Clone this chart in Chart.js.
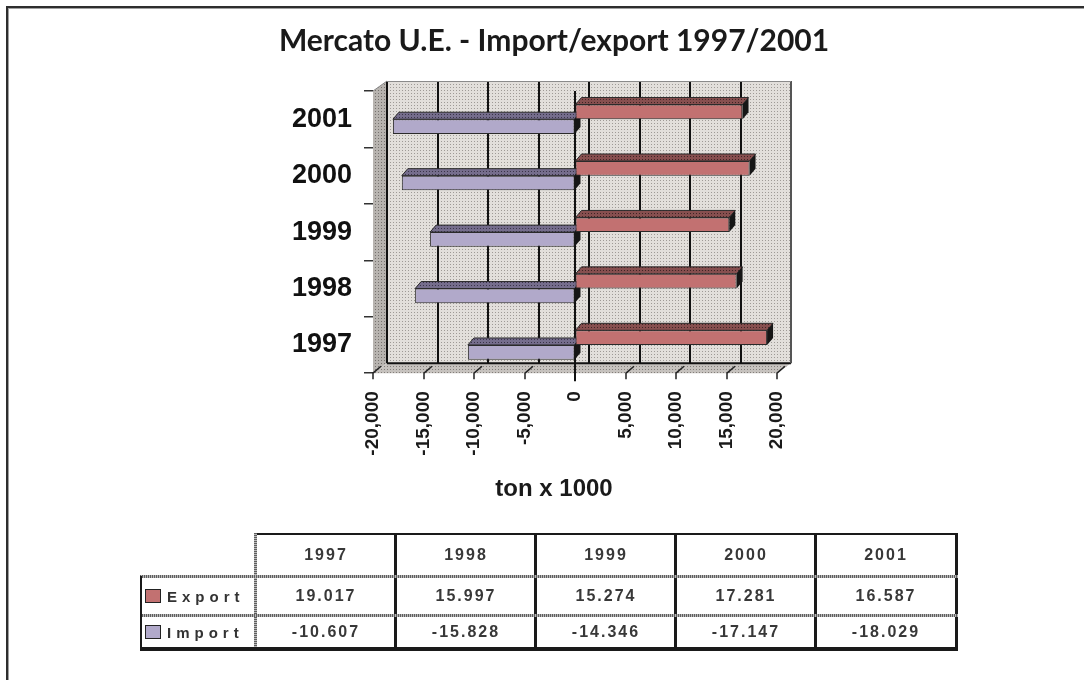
<!DOCTYPE html>
<html>
<head>
<meta charset="utf-8">
<title>Mercato U.E. - Import/export 1997/2001</title>
<script src="https://cdn.jsdelivr.net/npm/chart.js@4.4.1/dist/chart.umd.min.js"></script>
<style>
  html, body { margin: 0; padding: 0; background: #fff; width: 1084px; height: 680px; overflow: hidden; }
  #frame { position: absolute; left: 6px; top: 6px; right: 0; bottom: 0;
           border-top: 2px solid #2e2e2e; border-left: 2px solid #2e2e2e;
           box-shadow: inset 1px 1px 0 #a0a0a0; }
  #chart { position: absolute; left: 0; top: 0; }
  #table { position: absolute; left: 0; top: 0; width: 1084px; height: 680px;
           font-family: "Liberation Sans", Arial, sans-serif; }
  #table div { position: absolute; box-sizing: border-box; }
  .cell { display: flex; align-items: center; justify-content: center;
          font-weight: bold; font-size: 16px; letter-spacing: 2px; padding-left: 2px; color: #383838; }
  .name { display: flex; align-items: center; font-weight: bold; font-size: 15px;
          letter-spacing: 5px; color: #333; }
  .black { background: #1a1a1a; }
  .dots { background: repeating-linear-gradient(90deg, #5e5e5e 0 1px, #b8b8b8 1px 2px); }
  .vdots { background: repeating-linear-gradient(180deg, #5e5e5e 0 1px, #b8b8b8 1px 2px); }
</style>
</head>
<body>
<div id="frame"></div>
<canvas id="chart" width="1084" height="520"></canvas>
<div id="table"></div>
<script>
// ---- data ----
const categories   = ['1997', '1998', '1999', '2000', '2001'];
const seriesNames  = ['Export', 'Import'];
const exportValues = [19017, 15997, 15274, 17281, 16587];
const importValues = [-10607, -15828, -14346, -17147, -18029];
const axisTicks    = [-20000, -15000, -10000, -5000, 0, 5000, 10000, 15000, 20000];
const chartTitle   = 'Mercato U.E. - Import/export 1997/2001';
const axisTitle    = 'ton x 1000';

// ---- styling ----
const exportColor = '#c27171';
const importColor = '#b1a9ca';
const DX = 14, DY = 10;     // depth of the room (back wall offset)
const BDX = 6, BDY = 7;     // depth of each bar

function tile(base, dot, n) {
  const c = document.createElement('canvas');
  c.width = n; c.height = n;
  const g = c.getContext('2d');
  g.fillStyle = base; g.fillRect(0, 0, n, n);
  g.fillStyle = dot; g.fillRect(0, 0, 1, 1);
  return c;
}
function poly(ctx, pts) {
  ctx.beginPath();
  ctx.moveTo(pts[0][0], pts[0][1]);
  for (let i = 1; i < pts.length; i++) ctx.lineTo(pts[i][0], pts[i][1]);
  ctx.closePath();
}
function seg(ctx, x1, y1, x2, y2) {
  ctx.beginPath(); ctx.moveTo(x1, y1); ctx.lineTo(x2, y2); ctx.stroke();
}

// Walls, floor, back grid and the 3D sides of the bars
const room3d = {
  id: 'room3d',
  beforeDatasetsDraw(chart) {
    const { ctx, chartArea: a, scales } = chart;
    const xs = scales.x;
    const L = a.left, R = a.right, T = a.top, B = a.bottom;
    ctx.save();

    // back wall
    ctx.fillStyle = ctx.createPattern(tile('#e2dfdb', '#9e9a96', 3), 'repeat');
    ctx.fillRect(L + DX, T - DY, R - L, B - T);
    // left wall
    ctx.fillStyle = ctx.createPattern(tile('#b8b4b0', '#76726e', 3), 'repeat');
    poly(ctx, [[L, T], [L + DX, T - DY], [L + DX, B - DY], [L, B]]); ctx.fill();
    // floor
    ctx.fillStyle = ctx.createPattern(tile('#c6c2be', '#827e7a', 3), 'repeat');
    poly(ctx, [[L, B], [L + DX, B - DY], [R + DX, B - DY], [R, B]]); ctx.fill();

    // grid lines on the back wall
    ctx.strokeStyle = '#111'; ctx.lineWidth = 2;
    xs.ticks.forEach(t => {
      if (t.value === xs.min || t.value === xs.max) return;
      const px = Math.round(xs.getPixelForValue(t.value)) + DX;
      seg(ctx, px, T - DY, px, B - DY);
    });
    // back wall edges
    seg(ctx, L + DX, T - DY, L + DX, B - DY);
    seg(ctx, L + DX, B - DY, R + DX, B - DY);
    ctx.strokeStyle = '#555';
    seg(ctx, R + DX, T - DY, R + DX, B - DY);
    ctx.strokeStyle = '#8a8a8a'; ctx.lineWidth = 1;
    seg(ctx, L + DX, T - DY + 0.5, R + DX, T - DY + 0.5);
    seg(ctx, L, T, L + DX, T - DY);

    // tick marks across the floor
    ctx.strokeStyle = '#222'; ctx.lineWidth = 1.5;
    xs.ticks.forEach(t => {
      if (t.value === 0) return;
      const f = Math.round(xs.getPixelForValue(t.value));
      ctx.beginPath();
      ctx.moveTo(f + 8, B - DY + 3); ctx.lineTo(f, B); ctx.lineTo(f, B + 6);
      ctx.stroke();
    });

    // zero line
    const z = Math.round(xs.getPixelForValue(0));
    ctx.strokeStyle = '#111'; ctx.lineWidth = 2;
    seg(ctx, z, T, z, B + 8);

    // top and end faces of the bars
    const tops = [
      ctx.createPattern(tile('#874f4f', '#3e2424', 3), 'repeat'),
      ctx.createPattern(tile('#756d8c', '#3a3448', 3), 'repeat')
    ];
    chart.data.datasets.forEach((ds, i) => {
      chart.getDatasetMeta(i).data.forEach(el => {
        const p = el.getProps(['x', 'y', 'base', 'height'], true);
        const left = Math.min(p.x, p.base), right = Math.max(p.x, p.base);
        const top = p.y - p.height / 2, bottom = p.y + p.height / 2;
        ctx.fillStyle = tops[i];
        poly(ctx, [[left, top], [left + BDX, top - BDY], [right + BDX, top - BDY], [right, top]]);
        ctx.fill();
        ctx.strokeStyle = '#2a2a2a'; ctx.lineWidth = 1; ctx.stroke();
        ctx.fillStyle = '#161616';
        poly(ctx, [[right, top], [right + BDX, top - BDY], [right + BDX, bottom - BDY], [right, bottom]]);
        ctx.fill();
      });
    });
    ctx.restore();
  }
};

new Chart(document.getElementById('chart'), {
  type: 'bar',
  data: {
    labels: categories,
    datasets: [
      { label: seriesNames[0], data: exportValues, backgroundColor: exportColor,
        borderColor: '#2a2a2a', borderWidth: 1, borderSkipped: false },
      { label: seriesNames[1], data: importValues, backgroundColor: importColor,
        borderColor: '#2a2a2a', borderWidth: 1, borderSkipped: false }
    ]
  },
  options: {
    indexAxis: 'y',
    responsive: false,
    animation: false,
    events: [],
    categoryPercentage: 0.52,
    barPercentage: 1.0,
    layout: { padding: { left: 24, right: 0, top: 0, bottom: 12 } },
    plugins: {
      legend: { display: false },
      tooltip: { enabled: false },
      title: {
        display: true,
        text: chartTitle,
        color: '#1a1a1a',
        font: { family: 'Lato', size: 30, weight: 'bold' },
        padding: { top: 23, bottom: 32 }
      },
      subtitle: {
        display: true,
        position: 'bottom',
        text: axisTitle,
        color: '#1a1a1a',
        font: { family: 'Liberation Sans', size: 24, weight: 'bold' },
        padding: { top: 2, bottom: 4 }
      }
    },
    scales: {
      x: {
        type: 'linear',
        min: -20000, max: 20000,
        afterBuildTicks: s => { s.ticks = axisTicks.map(v => ({ value: v })); },
        afterFit: s => { s.height = 100; },
        border: { display: false },
        grid: { display: true, drawOnChartArea: false, drawTicks: true, tickLength: 8, color: 'rgba(0,0,0,0)' },
        ticks: {
          minRotation: 90, maxRotation: 90, padding: 10,
          color: '#1a1a1a',
          font: { family: 'Liberation Sans', size: 19, weight: 'bold' },
          callback: v => v.toLocaleString('en-US')
        }
      },
      y: {
        type: 'category',
        reverse: true,
        offset: true,
        afterFit: s => { s.width = 349; },
        border: { display: false },
        grid: { display: true, offset: true, drawOnChartArea: false, drawTicks: true,
                tickLength: 9, color: '#333', lineWidth: 1.5 },
        ticks: { color: '#111', font: { family: 'Liberation Sans', size: 27, weight: 'bold' }, padding: 12 }
      },
      spacer: {
        type: 'linear', position: 'right', display: true,
        afterFit: s => { s.width = 307; },
        border: { display: false },
        grid: { display: false, drawTicks: false },
        ticks: { display: false }
      }
    }
  },
  plugins: [room3d]
});

// ---- data table below the chart ----
function itNumber(v) {
  const s = Math.abs(v).toString().replace(/\B(?=(\d{3})+(?!\d))/g, '.');
  return (v < 0 ? '-' : '') + s;
}
const T = document.getElementById('table');
function box(cls, l, t, w, h, text, extra) {
  const d = document.createElement('div');
  d.className = cls;
  Object.assign(d.style, { left: l + 'px', top: t + 'px', width: w + 'px', height: h + 'px' }, extra || {});
  if (text !== undefined) d.textContent = text;
  T.appendChild(d);
  return d;
}
const tabLeft = 140, firstCol = 255, colW = 140;
const rowTops = [535, 578, 617], rowHs = [40, 36, 30];
const tabRight = firstCol + colW * categories.length;

// grid lines
box('black', firstCol, 533, tabRight - firstCol + 2, 2);
box('vdots', firstCol - 1, 533, 3, 116);
for (let i = 1; i < categories.length; i++) box('black', firstCol + colW * i - 1, 533, 3, 117);
box('black', tabRight, 533, 3, 118);
box('dots', tabLeft, 575, tabRight - tabLeft + 3, 3);
box('dots', tabLeft, 614, tabRight - tabLeft + 3, 3);
box('black', tabLeft, 576, 2, 74);
box('black', tabLeft, 647, tabRight - tabLeft + 3, 4);

// header row and values
const rows = [exportValues, importValues];
categories.forEach((c, i) => {
  const x = firstCol + colW * i;
  box('cell', x, rowTops[0], colW, rowHs[0], c);
  rows.forEach((vals, r) => box('cell', x, rowTops[r + 1], colW, rowHs[r + 1], itNumber(vals[i])));
});
// series names with colour keys
[exportColor, importColor].forEach((col, r) => {
  const t = rowTops[r + 1], h = rowHs[r + 1];
  box('', 145, t + h / 2 - 7, 16, 14, undefined, { background: col, border: '1px solid #222' });
  box('name', 167, t, 88, h, seriesNames[r]);
});
</script>
</body>
</html>
